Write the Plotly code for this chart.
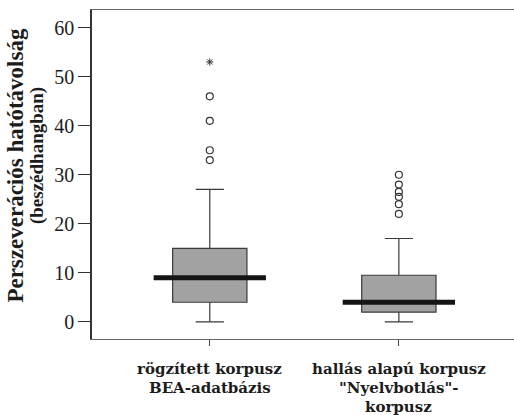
import plotly.graph_objects as go

# Corpus groups (one box each)
categories = [
    ["rögzített korpusz", "BEA-adatbázis"],
    ["hallás alapú korpusz", "\"Nyelvbotlás\"-", "korpusz"],
]
q1_values = [4, 2]
median_values = [9, 4]
q3_values = [15, 9.5]
lower_whiskers = [0, 0]
upper_whiskers = [27, 17]
# Outliers (circles) and extreme values (asterisks) per group
outliers = [
    [46, 41, 35, 33],
    [30, 28, 26.5, 25.5, 24, 22],
]
extremes = [
    [53],
    [],
]
y_ticks = [0, 10, 20, 30, 40, 50, 60]
y_title_lines = ["Perszeverációs hatótávolság", "(beszédhangban)"]

SERIF = "Liberation Serif, Times New Roman, serif"
WIDE_SERIF = "DejaVu Serif, serif"
INK = "#1c1c1c"
BOX_WIDTH = 0.393
MEDIAN_HALF = 0.297

fig = go.Figure()

positions = list(range(len(categories)))

fig.add_trace(go.Box(
    x=positions,
    q1=q1_values,
    median=median_values,
    q3=q3_values,
    lowerfence=lower_whiskers,
    upperfence=upper_whiskers,
    width=BOX_WIDTH,
    whiskerwidth=0.38,
    fillcolor="#a2a2a2",
    line=dict(color="#3a3a3a", width=1.2),
    boxpoints=False,
    showlegend=False,
    hoverinfo="skip",
))

# Thick median bars extending past the box edges
mx, my = [], []
for i, m in zip(positions, median_values):
    mx += [i - MEDIAN_HALF, i + MEDIAN_HALF, None]
    my += [m, m, None]
fig.add_trace(go.Scatter(
    x=mx, y=my, mode="lines",
    line=dict(color="#151515", width=5),
    showlegend=False, hoverinfo="skip",
))

ox, oy = [], []
for i, vals in zip(positions, outliers):
    ox += [i] * len(vals)
    oy += vals
fig.add_trace(go.Scatter(
    x=ox, y=oy, mode="markers",
    marker=dict(symbol="circle-open", size=7, color="#333333",
                line=dict(width=1.2, color="#333333")),
    showlegend=False, hoverinfo="skip",
))

ex, ey = [], []
for i, vals in zip(positions, extremes):
    ex += [i] * len(vals)
    ey += vals
fig.add_trace(go.Scatter(
    x=ex, y=ey, mode="markers",
    marker=dict(symbol="asterisk-open", size=6, color="#333333",
                line=dict(width=1, color="#333333")),
    showlegend=False, hoverinfo="skip",
))

annotations = []
# Category labels, one annotation per line
line_shifts = [-30, -49, -68]
for i, lines in zip(positions, categories):
    for k, txt in enumerate(lines):
        annotations.append(dict(
            x=i, y=0, xref="x", yref="paper",
            yshift=line_shifts[k], height=18,
            text=f"<b>{txt}</b>", showarrow=False,
            xanchor="center", yanchor="middle",
            font=dict(family=WIDE_SERIF, size=15, color=INK),
        ))

# Two-line rotated y-axis title
title_specs = [(y_title_lines[0], -76, 0.527, 23), (y_title_lines[1], -55, 0.556, 19)]
for txt, xs, yp, fs in title_specs:
    annotations.append(dict(
        x=0, y=yp, xref="paper", yref="paper", xshift=xs,
        text=f"<b>{txt}</b>", showarrow=False, textangle=-90,
        xanchor="center", yanchor="middle",
        font=dict(family=SERIF, size=fs, color=INK),
    ))

fig.update_layout(
    width=514, height=415,
    margin=dict(l=92, r=0, t=10, b=76),
    paper_bgcolor="white", plot_bgcolor="white",
    font=dict(family=SERIF, color=INK),
    annotations=annotations,
    xaxis=dict(
        range=[-0.623, 1.609],
        tickvals=positions, ticktext=["", ""],
        ticks="outside", ticklen=6, tickcolor="#444",
        showline=True, linecolor="#666", linewidth=1, mirror=True,
        showgrid=False, zeroline=False, fixedrange=True,
    ),
    yaxis=dict(
        range=[-3.5, 63.6],
        tickvals=y_ticks,
        ticks="outside", ticklen=12, tickcolor="#333",
        tickfont=dict(family=SERIF, size=20, color=INK),
        showline=True, linecolor="#333", linewidth=1.5,
        showgrid=False, zeroline=False, fixedrange=True,
    ),
)

fig.write_html("out.html")
